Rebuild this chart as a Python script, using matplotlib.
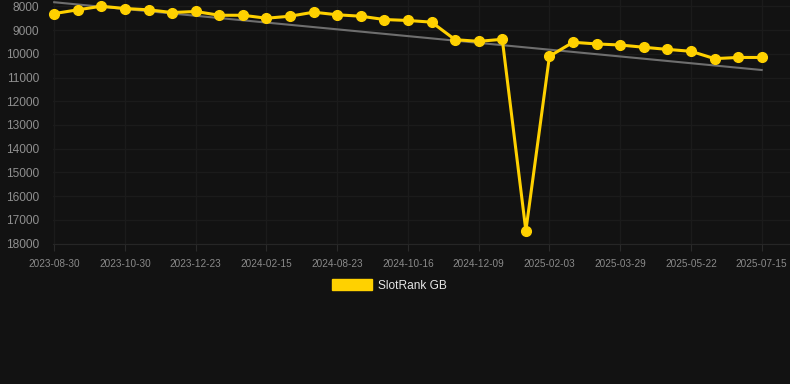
"""
slotrank_plot.py
"""
import matplotlib
matplotlib.use('Agg')
import matplotlib.pyplot as plt
from matplotlib.patches import Patch
# ------------------------Data--------------------------------------------------
dates = ['2023-08-30', '2023-10-30', '2023-12-23', '2024-02-15', '2024-08-23',
         '2024-10-16', '2024-12-09', '2025-02-03', '2025-03-29', '2025-05-22',
         '2025-07-15']
ranks = [8300, 8140, 7990, 8085, 8140, 8255, 8210, 8370, 8370, 8495,
         8410, 8240, 8350, 8410, 8550, 8590, 8660, 9400, 9470, 9385,
         17460, 10100, 9510, 9580, 9625, 9720, 9810, 9890, 10200, 10150,
         10150]
trend = [7820, 10680]   # trend line at first and last point
series_name = 'SlotRank GB'
# ------------------------Style-------------------------------------------------
bg = '#121212'
yellow = '#FFD100'
plt.rcParams['font.family'] = ['Liberation Sans', 'DejaVu Sans']
# ------------------------------------------------------------------------------
fig = plt.figure(figsize=(7.9, 3.84), dpi=100, facecolor=bg)
ax = fig.add_axes([53/790, 1-243.5/384, 1-53/790, 243.5/384])
ax.set_facecolor(bg)

idx = list(range(len(ranks)))
ax.plot([idx[0], idx[-1]], trend, color='#6e6e6e', lw=1.5, zorder=2)
ax.plot(idx, ranks, color=yellow, lw=2.2, marker='o', markersize=7.0,
        zorder=3, clip_on=False)

ax.set_xlim(-0.05, 31.2)
ax.set_ylim(18000, 7726)
ax.set_yticks(range(8000, 18001, 1000))
ax.set_xticks(idx[::3])
ax.set_xticklabels(dates)
ax.tick_params(axis='x', colors='#2a2a2a', length=5, labelcolor='#8a8a8a',
               labelsize=7.2, pad=6)
ax.tick_params(axis='y', length=0, labelcolor='#8f8f8f', labelsize=8.6, pad=10)
ax.grid(True, color='#1b1b1b', lw=1)
ax.set_axisbelow(True)
for s in ['top', 'right', 'left']:
    ax.spines[s].set_visible(False)
ax.spines['bottom'].set_color('#262626')

fig.legend(handles=[Patch(facecolor=yellow, edgecolor=yellow, label=series_name)],
           loc='center', bbox_to_anchor=(389.5/790, 1-285.5/384), frameon=False,
           fontsize=8.6, labelcolor='#e6e6e6', handlelength=3.33,
           handleheight=1.0, handletextpad=0.5)

plt.savefig('out.png', dpi=100, facecolor=bg)
